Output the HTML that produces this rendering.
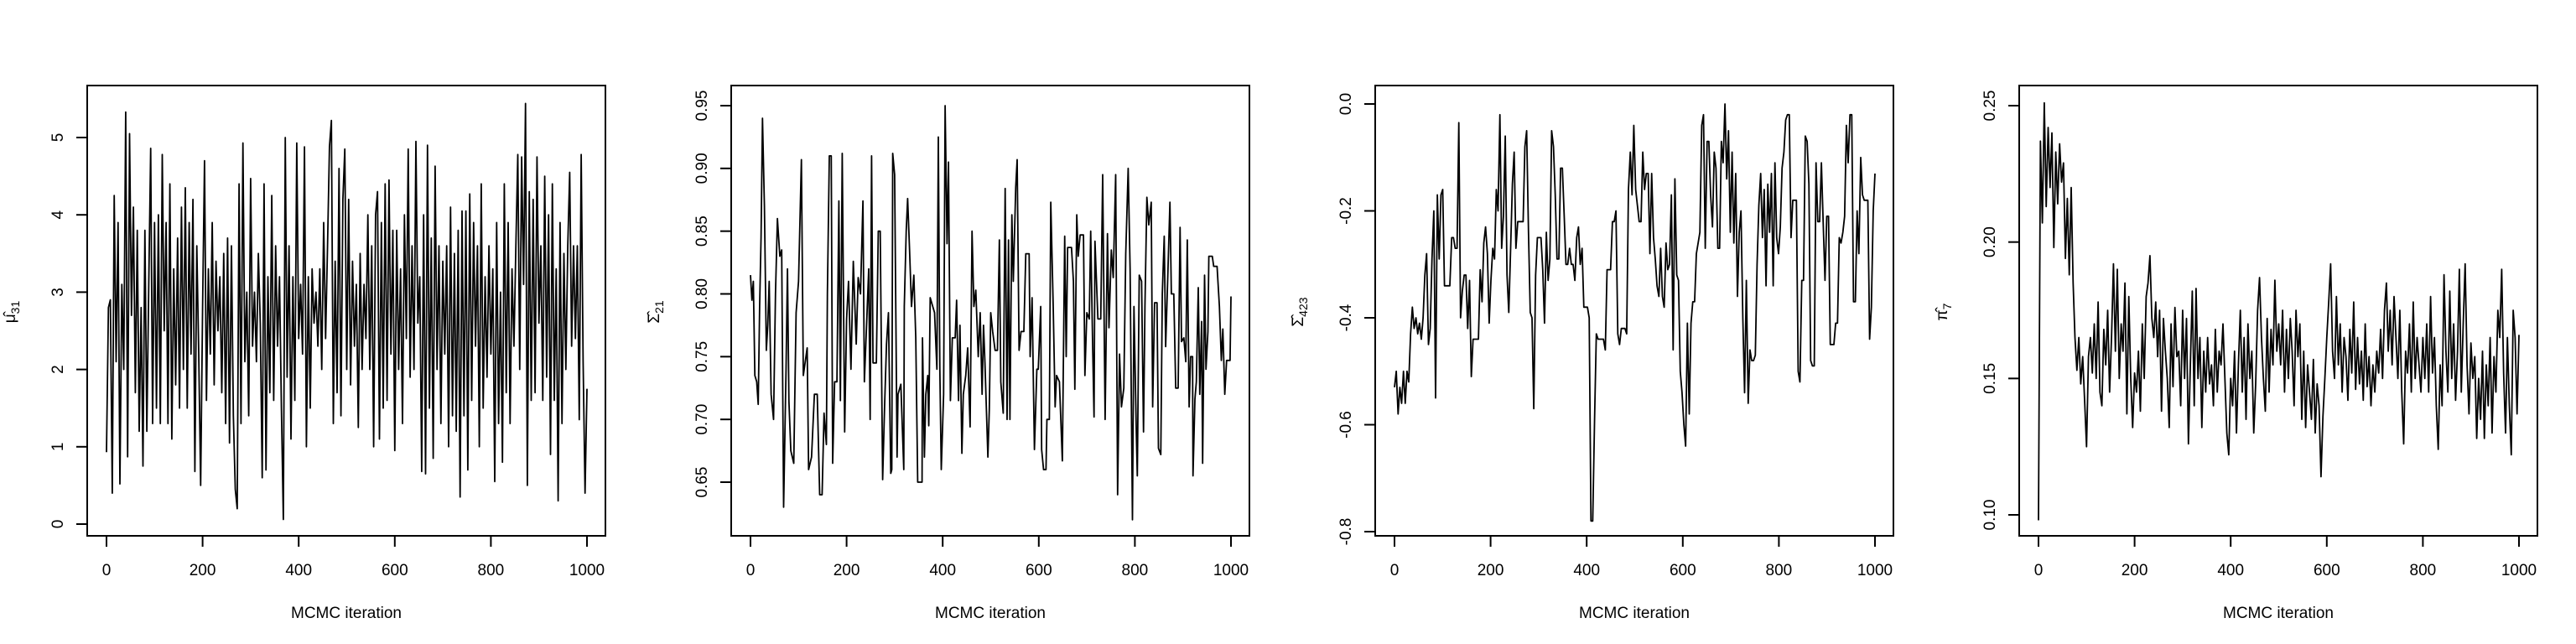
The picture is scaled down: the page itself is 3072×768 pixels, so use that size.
<!DOCTYPE html>
<html><head><meta charset="utf-8">
<style>
html,body{margin:0;padding:0;background:#fff;}
svg{display:block;font-family:"Liberation Sans",Arial,sans-serif;}
</style></head>
<body>
<svg id="fig" width="3072" height="768" viewBox="0 0 3072 768" xmlns="http://www.w3.org/2000/svg"></svg>
<script>
// ---- data ----
const xTicks = [0,200,400,600,800,1000];

const mu31 = [0.93,2.8,2.9,0.4,4.25,2.1,3.9,0.52,3.1,2.0,5.33,0.87,5.05,2.7,4.1,1.7,3.8,1.2,2.8,0.75,3.8,1.2,3.1,4.86,1.3,
3.9,1.5,4.0,1.3,4.78,2.5,3.9,1.3,4.4,1.1,3.3,1.8,3.7,1.5,4.1,2.0,4.35,1.5,3.9,2.2,4.2,0.68,3.6,2.2,0.5,
2.8,4.7,1.6,3.3,2.2,3.9,1.8,3.4,2.5,3.2,1.7,3.5,1.3,3.7,1.05,3.6,1.4,0.45,0.2,4.4,1.3,4.93,2.1,3.0,1.4,
4.47,2.3,3.0,2.1,3.5,2.6,0.6,4.4,0.7,3.2,1.7,4.25,1.6,3.6,2.3,3.2,1.5,0.06,5.0,1.9,3.6,1.1,3.2,1.6,4.93,
2.4,3.1,2.2,4.88,1.0,3.2,1.5,3.3,2.6,3.0,2.3,3.3,2.0,3.9,2.4,3.6,4.88,5.22,1.3,3.4,1.7,4.6,1.4,4.2,4.85,
2.0,4.2,1.8,3.4,2.3,3.1,1.25,3.5,2.0,3.1,2.4,4.0,2.0,3.6,1.0,4.0,4.3,1.1,3.9,1.5,4.4,1.6,4.45,2.2,3.8,
0.95,3.8,2.0,3.3,1.3,4.0,2.4,4.85,1.9,3.6,2.0,4.95,2.6,3.2,0.68,4.0,0.65,4.9,1.5,3.7,0.85,4.63,2.0,3.6,1.3,
3.4,2.2,3.6,1.0,4.1,1.4,3.5,1.2,3.8,0.35,4.05,1.4,4.05,0.7,4.27,1.6,3.9,2.3,3.6,1.0,4.4,1.5,3.2,1.9,3.6,
2.2,3.3,0.55,3.9,1.3,3.0,0.8,4.4,1.7,3.9,1.3,3.3,2.3,3.6,4.78,2.0,4.75,3.1,5.44,0.5,4.3,1.6,4.2,1.7,4.75,
2.6,3.6,1.6,4.5,1.9,4.0,0.9,4.4,1.6,3.3,0.3,3.9,1.3,3.5,2.0,3.6,4.55,2.3,3.6,2.4,3.6,1.35,4.78,2.1,0.4,1.75];

const sig21Iter = [0,3,6,9,13,16,19,22,25,29,33,36,39,43,48,52,56,61,65,69,74,77,80,84,90,95,100,106,110,118,121,127,133,139,144,149,153,158,160,164,168,171,175,180,184,187,191,196,200,204,209,214,220,224,229,234,237,242,246,249,252,255,262,266,270,275,279,283,287,292,294,296,300,305,307,313,319,320,324,327,331,335,340,344,348,357,358,362,365,369,371,374,383,388,391,394,397,402,405,409,412,416,420,426,429,433,436,440,443,448,452,457,461,465,469,474,478,482,485,488,494,497,500,504,509,514,518,521,526,530,534,537,540,544,547,552,555,559,563,569,573,580,582,586,591,596,599,604,606,610,615,617,622,625,630,634,637,643,649,654,657,660,668,672,675,679,682,686,693,696,700,705,708,712,715,717,723,729,733,738,743,746,751,755,760,764,768,772,777,781,786,790,795,798,803,805,809,814,818,821,825,829,834,837,841,846,849,854,857,861,864,869,873,876,881,885,890,894,897,902,906,909,913,916,920,921,925,928,932,935,939,941,945,948,952,954,961,964,971,976,980,983,987,991,998,1000];
const sig21 = [0.815,0.795,0.81,0.735,0.73,0.712,0.79,0.845,0.94,0.87,0.755,0.775,0.81,0.72,0.70,0.80,0.86,0.83,0.835,0.63,0.74,0.82,0.715,0.675,0.665,0.785,0.81,0.907,0.735,0.757,0.66,0.67,0.72,0.72,0.64,0.64,0.705,0.68,0.80,0.91,0.91,0.665,0.73,0.73,0.874,0.715,0.912,0.69,0.78,0.81,0.74,0.826,0.76,0.813,0.80,0.874,0.73,0.78,0.82,0.70,0.91,0.745,0.745,0.85,0.85,0.652,0.71,0.76,0.785,0.657,0.66,0.912,0.895,0.67,0.72,0.728,0.66,0.79,0.85,0.876,0.835,0.79,0.815,0.765,0.65,0.65,0.765,0.67,0.72,0.735,0.695,0.797,0.785,0.74,0.925,0.74,0.66,0.72,0.95,0.84,0.905,0.715,0.765,0.765,0.795,0.715,0.775,0.673,0.72,0.735,0.757,0.694,0.85,0.79,0.803,0.75,0.785,0.72,0.775,0.745,0.67,0.708,0.785,0.77,0.755,0.755,0.843,0.73,0.705,0.884,0.70,0.843,0.70,0.863,0.81,0.885,0.907,0.755,0.77,0.77,0.832,0.832,0.75,0.797,0.676,0.74,0.74,0.79,0.676,0.66,0.66,0.70,0.70,0.873,0.79,0.71,0.735,0.73,0.667,0.846,0.75,0.837,0.837,0.81,0.724,0.863,0.83,0.847,0.847,0.735,0.785,0.78,0.85,0.76,0.702,0.842,0.78,0.78,0.895,0.70,0.848,0.773,0.835,0.813,0.895,0.64,0.752,0.71,0.725,0.832,0.90,0.82,0.62,0.79,0.69,0.655,0.815,0.81,0.69,0.79,0.877,0.855,0.873,0.71,0.793,0.793,0.677,0.672,0.80,0.846,0.758,0.82,0.873,0.80,0.80,0.725,0.725,0.853,0.762,0.765,0.746,0.843,0.71,0.75,0.75,0.655,0.716,0.73,0.805,0.72,0.778,0.665,0.815,0.74,0.77,0.83,0.83,0.822,0.822,0.79,0.747,0.772,0.72,0.747,0.747,0.798];

const sig423 = [-0.53,-0.50,-0.58,-0.53,-0.56,-0.50,-0.56,-0.50,-0.52,-0.43,-0.38,-0.42,-0.40,-0.43,-0.41,-0.44,-0.40,-0.32,-0.28,-0.45,-0.42,-0.29,-0.20,-0.55,-0.17,-0.29,-0.17,-0.16,-0.34,-0.34,-0.34,-0.34,-0.25,-0.25,-0.27,-0.27,-0.035,-0.40,-0.35,-0.32,-0.32,-0.42,-0.33,-0.51,-0.44,-0.44,-0.44,-0.44,-0.31,-0.37,-0.26,-0.23,-0.28,-0.41,-0.33,-0.27,-0.29,-0.16,-0.20,-0.02,-0.27,-0.21,-0.06,-0.32,-0.39,-0.27,-0.15,-0.09,-0.27,-0.22,-0.22,-0.22,-0.22,-0.08,-0.05,-0.24,-0.39,-0.40,-0.57,-0.32,-0.25,-0.25,-0.25,-0.31,-0.41,-0.24,-0.33,-0.29,-0.05,-0.08,-0.17,-0.29,-0.29,-0.12,-0.12,-0.21,-0.30,-0.30,-0.27,-0.30,-0.30,-0.33,-0.25,-0.23,-0.30,-0.27,-0.38,-0.38,-0.38,-0.40,-0.78,-0.78,-0.59,-0.43,-0.44,-0.44,-0.44,-0.44,-0.46,-0.31,-0.31,-0.31,-0.22,-0.22,-0.20,-0.43,-0.45,-0.42,-0.42,-0.42,-0.43,-0.16,-0.09,-0.17,-0.04,-0.16,-0.19,-0.22,-0.22,-0.09,-0.16,-0.13,-0.13,-0.28,-0.13,-0.25,-0.29,-0.34,-0.36,-0.27,-0.36,-0.38,-0.26,-0.31,-0.30,-0.17,-0.46,-0.14,-0.32,-0.33,-0.50,-0.54,-0.60,-0.64,-0.41,-0.58,-0.41,-0.37,-0.37,-0.28,-0.26,-0.24,-0.04,-0.02,-0.27,-0.07,-0.07,-0.17,-0.23,-0.09,-0.12,-0.27,-0.27,-0.07,-0.11,0.0,-0.14,-0.05,-0.24,-0.09,-0.26,-0.13,-0.36,-0.24,-0.20,-0.40,-0.54,-0.33,-0.56,-0.46,-0.48,-0.48,-0.47,-0.30,-0.19,-0.13,-0.25,-0.16,-0.34,-0.15,-0.24,-0.13,-0.34,-0.11,-0.25,-0.28,-0.23,-0.12,-0.09,-0.03,-0.02,-0.02,-0.25,-0.18,-0.18,-0.18,-0.50,-0.52,-0.33,-0.33,-0.06,-0.07,-0.15,-0.48,-0.49,-0.49,-0.11,-0.22,-0.22,-0.11,-0.22,-0.33,-0.21,-0.21,-0.45,-0.45,-0.45,-0.41,-0.41,-0.25,-0.26,-0.24,-0.21,-0.04,-0.11,-0.02,-0.02,-0.37,-0.37,-0.20,-0.28,-0.10,-0.17,-0.18,-0.18,-0.18,-0.44,-0.38,-0.20,-0.13];

const pi7 = [0.098,0.237,0.207,0.251,0.213,0.242,0.22,0.24,0.198,0.233,0.214,0.236,0.222,0.229,0.194,0.216,0.188,0.22,0.185,0.165,0.153,0.165,0.148,0.158,0.142,
0.125,0.158,0.165,0.152,0.17,0.15,0.178,0.145,0.14,0.168,0.155,0.175,0.145,0.165,0.192,0.16,0.19,0.15,0.17,0.16,0.185,0.137,0.18,0.15,0.132,
0.152,0.145,0.16,0.138,0.17,0.15,0.18,0.185,0.195,0.172,0.165,0.178,0.158,0.175,0.138,0.172,0.16,0.15,0.132,0.17,0.147,0.176,0.158,0.16,0.14,
0.175,0.15,0.172,0.126,0.155,0.182,0.14,0.183,0.15,0.165,0.132,0.16,0.145,0.165,0.148,0.155,0.14,0.168,0.145,0.16,0.155,0.17,0.15,0.13,0.122,
0.15,0.14,0.16,0.13,0.155,0.175,0.145,0.165,0.135,0.17,0.15,0.16,0.13,0.148,0.175,0.187,0.165,0.15,0.138,0.172,0.145,0.168,0.155,0.186,0.16,
0.17,0.155,0.175,0.145,0.168,0.15,0.172,0.16,0.14,0.175,0.158,0.17,0.135,0.16,0.132,0.155,0.145,0.135,0.157,0.13,0.148,0.14,0.114,0.136,0.15,
0.165,0.178,0.192,0.16,0.15,0.18,0.155,0.17,0.145,0.165,0.158,0.142,0.168,0.152,0.178,0.146,0.165,0.148,0.16,0.142,0.17,0.147,0.158,0.14,0.155,
0.145,0.16,0.152,0.168,0.15,0.175,0.185,0.16,0.175,0.155,0.18,0.165,0.15,0.175,0.145,0.126,0.16,0.152,0.17,0.145,0.178,0.15,0.165,0.155,0.145,
0.165,0.15,0.17,0.145,0.18,0.152,0.165,0.14,0.124,0.155,0.14,0.188,0.16,0.145,0.182,0.15,0.17,0.142,0.16,0.19,0.145,0.17,0.192,0.155,0.137,
0.163,0.15,0.158,0.128,0.15,0.135,0.16,0.128,0.155,0.14,0.165,0.13,0.158,0.145,0.175,0.165,0.19,0.152,0.13,0.165,0.14,0.122,0.175,0.165,0.137,0.166];

const yTicks1 = [0,1,2,3,4,5];
const yTicks2 = [0.65,0.70,0.75,0.80,0.85,0.90,0.95];
const yTicks3 = [0.0,-0.2,-0.4,-0.6,-0.8];
const yTicks4 = [0.10,0.15,0.20,0.25];
const yTickLabels2 = ["0.65","0.70","0.75","0.80","0.85","0.90","0.95"];
const yTickLabels3 = ["0.0","-0.2","-0.4","-0.6","-0.8"];
const yTickLabels4 = ["0.10","0.15","0.20","0.25"];

// ---- drawing ----
const NS = "http://www.w3.org/2000/svg";
const svg = document.getElementById('fig');
function mk(tag, attrs, parent){
  const e = document.createElementNS(NS, tag);
  for (const k in attrs) e.setAttribute(k, attrs[k]);
  (parent||svg).appendChild(e);
  return e;
}
function uniformIters(vals){ return vals.map((v,i)=> i*1000/(vals.length-1)); }

const panels = [
  {key:'mu31', vals:mu31, iters:uniformIters(mu31), ticks:yTicks1, labels:yTicks1.map(String), yA:[0,5], pA:[625,164], sym:'μ', sub:'31'},
  {key:'sigma21', vals:sig21, iters:sig21Iter, ticks:yTicks2, labels:yTickLabels2, yA:[0.95,0.65], pA:[126,575], sym:'Σ', sub:'21'},
  {key:'sigma423', vals:sig423, iters:uniformIters(sig423), ticks:yTicks3, labels:yTickLabels3, yA:[0,-0.8], pA:[124,634], sym:'Σ', sub:'423'},
  {key:'pi7', vals:pi7, iters:uniformIters(pi7), ticks:yTicks4, labels:yTickLabels4, yA:[0.25,0.10], pA:[126,614], sym:'π', sub:'7'}
];

panels.forEach((p, k) => {
  const off = k*768;
  const g = mk('g', {});
  
  
  const xS = v => off + 127 + (v/1000)*573;
  const yS = v => p.pA[0] + (v - p.yA[0])*(p.pA[1]-p.pA[0])/(p.yA[1]-p.yA[0]);
  const L = off+104, R = off+722, T = 102, B = 639;

  // trace line
  let d = '';
  p.vals.forEach((v,i)=>{ d += (i?'L':'M') + xS(p.iters[i]).toFixed(1) + ' ' + yS(v).toFixed(1); });
  const path = mk('path', {d:d, fill:'none', stroke:'#000', 'stroke-width':'1.8', 'stroke-linejoin':'round'}, g);
  
  

  // box
  const box = mk('rect', {x:L, y:T, width:R-L, height:B-T, fill:'none', stroke:'#000', 'stroke-width':'2'}, g);
  
  

  // x axis
  const xa = mk('g', {}, g);
  
  
  mk('line', {x1:xS(xTicks[0]), x2:xS(xTicks[xTicks.length-1]), y1:B, y2:B, stroke:'#000','stroke-width':'2'}, xa);
  xTicks.forEach(t=>{
    mk('line', {x1:xS(t), x2:xS(t), y1:B, y2:B+13, stroke:'#000','stroke-width':'2'}, xa);
    const tx = mk('text', {x:xS(t), y:686, 'font-size':'19', 'text-anchor':'middle'}, xa);
    
    
    tx.textContent = String(t);
  });
  const xt = mk('text', {x:off+413, y:737, 'font-size':'19', 'text-anchor':'middle'}, g);
  
  
  xt.textContent = 'MCMC iteration';

  // y axis
  const ya = mk('g', {}, g);
  
  
  mk('line', {x1:L, x2:L, y1:yS(p.ticks[0]), y2:yS(p.ticks[p.ticks.length-1]), stroke:'#000','stroke-width':'2'}, ya);
  p.ticks.forEach((t,i)=>{
    const y = yS(t);
    mk('line', {x1:L-13, x2:L, y1:y, y2:y, stroke:'#000','stroke-width':'2'}, ya);
    const tx = mk('text', {x:off+75, y:y, 'font-size':'19', 'text-anchor':'middle', transform:'rotate(-90 '+(off+75)+' '+y+')'}, ya);
    
    
    tx.textContent = p.labels[i];
  });
  const cy = 372;
  const yt = mk('text', {x:off+18, y:cy, 'font-size':'19', 'text-anchor':'middle', transform:'rotate(-90 '+(off+18)+' '+cy+')'}, g);
  
  
  const s1 = mk('tspan', {}, yt);
  s1.textContent = p.sym + '\u0302';
  const s2 = mk('tspan', {'font-size':'14', dy:'5'}, yt);
  s2.textContent = p.sub;
});
</script>
</body></html>
